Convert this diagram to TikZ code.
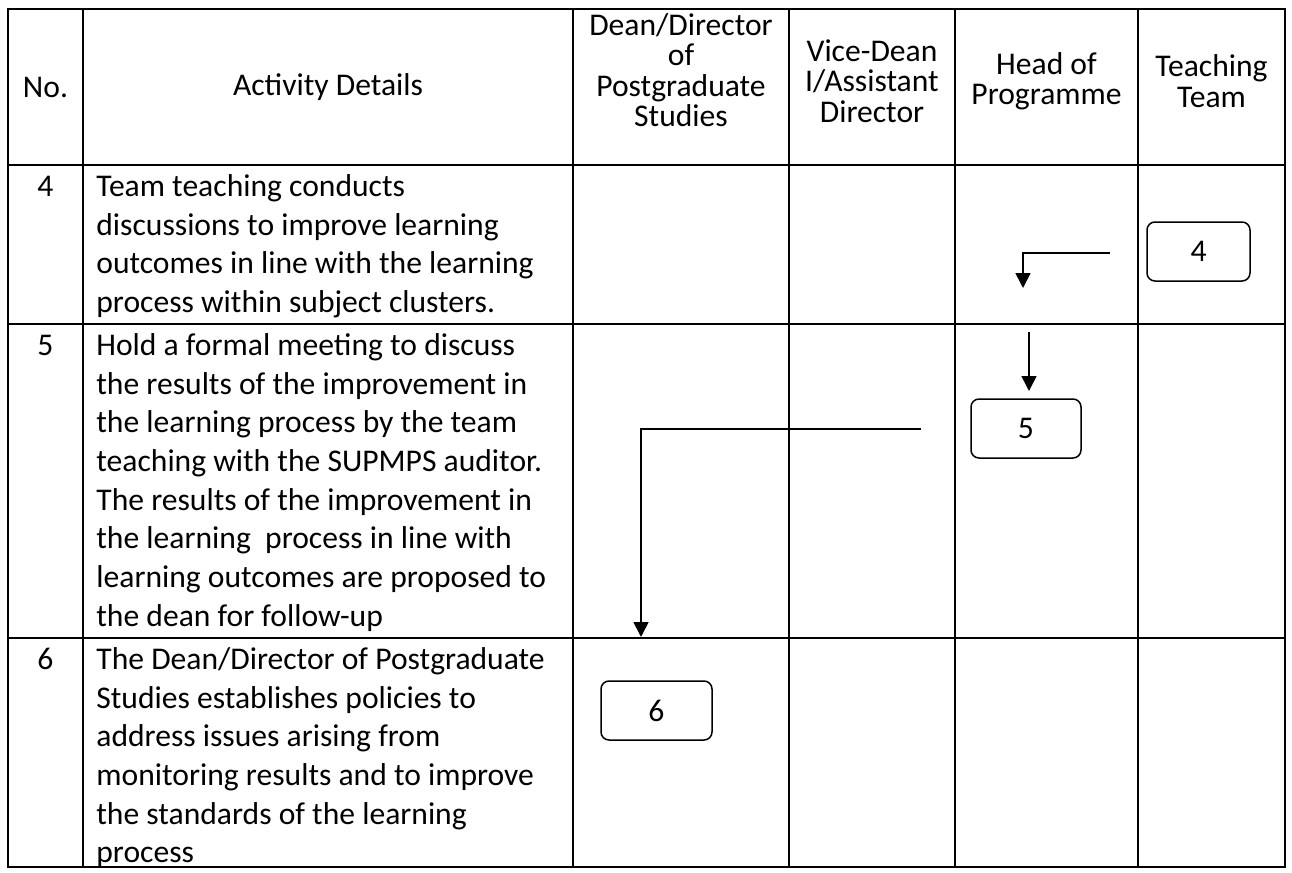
\documentclass[tikz,border=0pt]{standalone}
\usepackage{fontspec}
\setmainfont{Carlito}
\usetikzlibrary{arrows.meta}
\newcommand\cellfont{\fontsize{15.8pt}{19.35pt}\selectfont}
\newcommand\headfont{\fontsize{15.8pt}{15.25pt}\selectfont}
\begin{document}
\begin{tikzpicture}[x=0.5pt,y=-0.5pt,
  gridline/.style={line width=1.1pt},
  hdr/.style={align=center,inner sep=0pt,font=\headfont},
  rowtext/.style={align=left,inner sep=0pt,anchor=north west,font=\cellfont},
  rownum/.style={inner sep=0pt,anchor=base,font=\cellfont},
  stepbox/.style={draw,line width=0.75pt,rounded corners=4pt,inner sep=0pt,minimum height=29.5pt,font=\cellfont},
  flow/.style={line width=0.85pt,-{Triangle[length=7.5pt,width=7.5pt]}}]
\useasboundingbox (0,0) rectangle (1292,873);
% table grid
\draw[gridline] (8,9) rectangle (1285,867);
\foreach \xx in {83,573,789,955,1138} \draw[gridline] (\xx,9) -- (\xx,867);
\foreach \yy in {165,324,638} \draw[gridline] (8,\yy) -- (1285,\yy);
% header
\node[hdr] (hno) at (45.5,87) {No.};
\node[hdr] (hact) at (328,87) {Activity Details};
\node[hdr] (hdean) at (681,70) {Dean/Director\\of\\Postgraduate\\Studies};
\node[hdr] (hvice) at (872,81) {Vice-Dean\\I/Assistant\\Director};
\node[hdr] (hhead) at (1046.5,81) {Head of\\Programme};
\node[hdr] (hteam) at (1211.5,81) {Teaching\\Team};
% row numbers
\node[rownum] (n4) at (45.5,196) {4};
\node[rownum] (n5) at (45.5,355) {5};
\node[rownum] (n6) at (45.5,669) {6};
% row texts
\node[rowtext] (t4) at (96,171) {\rule{0pt}{12.5pt}Team teaching conducts\\discussions to improve learning\\outcomes in line with the learning\\process within subject clusters.};
\node[rowtext] (t5) at (96,330) {\rule{0pt}{12.5pt}Hold a formal meeting to discuss\\the results of the improvement in\\the learning process by the team\\teaching with the SUPMPS auditor.\\The results of the improvement in\\the learning\ \ process in line with\\learning outcomes are proposed to\\the dean for follow-up};
\node[rowtext] (t6) at (96,644) {\rule{0pt}{12.5pt}The Dean/Director of Postgraduate\\Studies establishes policies to\\address issues arising from\\monitoring results and to improve\\the standards of the learning\\process};
% step boxes
\node[stepbox,minimum width=51.5pt] (b4) at (1198.5,251.5) {4};
\node[stepbox,minimum width=55pt] (b5) at (1026,428.5) {5};
\node[stepbox,minimum width=55.5pt] (b6) at (656.5,710.5) {6};
% connectors
\coordinate (a1s) at (1110,253);
\coordinate (a1e) at (1023,288);
\coordinate (a2s) at (1029,332);
\coordinate (a2e) at (1029,391);
\coordinate (a3s) at (921,429);
\coordinate (a3e) at (641,637);
\draw[flow] (a1s) -| (a1e);
\draw[flow] (a2s) -- (a2e);
\draw[flow] (a3s) -| (a3e);
\end{tikzpicture}
\end{document}
